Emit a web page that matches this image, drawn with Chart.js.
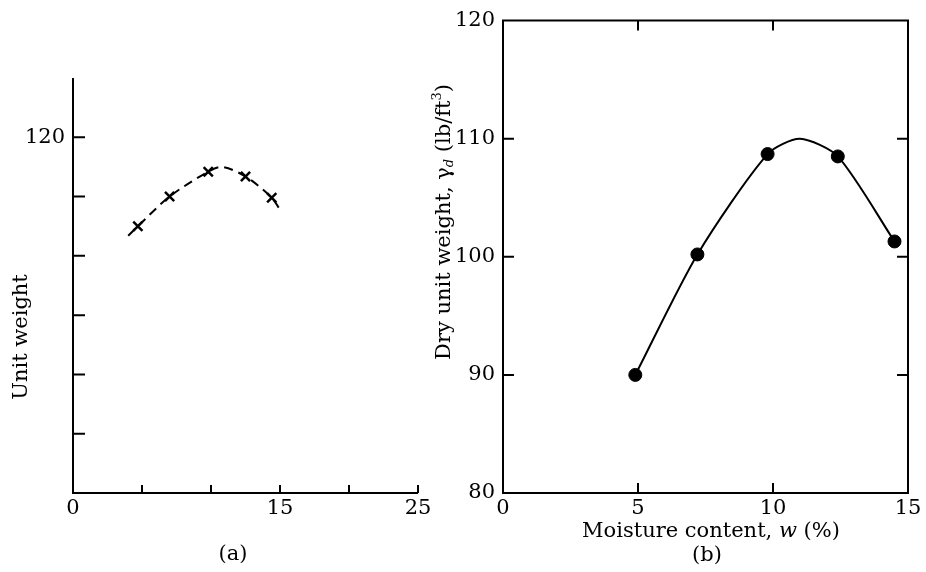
<!DOCTYPE html>
<html>
<head>
<meta charset="utf-8">
<script src="https://cdn.jsdelivr.net/npm/chart.js@4.4.1/dist/chart.umd.min.js"></script>
<style>
  body { margin: 0; background: #fff; width: 926px; height: 572px; overflow: hidden; position: relative; }
  canvas { position: absolute; top: 0; }
  #chartA { left: 0; }
  #chartB { left: 400px; }
</style>
</head>
<body>
<canvas id="chartA" width="460" height="572"></canvas>
<canvas id="chartB" width="526" height="572"></canvas>
<script>
// panel (a): measured points (x marks) and the dashed curve drawn through them
const aMoisture = [4.7, 7.0, 9.8, 12.5, 14.4];
const aUnitWeight = [112.5, 115.0, 117.1, 116.7, 114.9];
const aCurveMoisture = [4.0, 4.7, 7.0, 9.8, 10.8, 12.5, 14.4, 15.1];
const aCurveWeight = [111.7, 112.5, 115.0, 117.1, 117.5, 116.7, 114.9, 113.7];
const aXTicks = [5, 10, 15, 20, 25];
const aXLabels = [0, 15, 25];
const aYTicks = [95, 100, 105, 110, 115, 120];
const aYLabels = [120];

// panel (b): compaction test points and the smooth curve
const bMoisture = [4.9, 7.2, 9.8, 12.4, 14.5];
const bDryUnitWeight = [90.0, 100.2, 108.7, 108.5, 101.3];
const bCurveMoisture = [4.9, 7.2, 9.8, 11.0, 12.4, 14.5];
const bCurveWeight = [90.0, 100.2, 108.7, 110.0, 108.5, 101.3];
const bXTicks = [5, 10];
const bXLabels = [0, 5, 10, 15];
const bYTicks = [90, 100, 110];
const bYLabels = [80, 90, 100, 110, 120];

const FONT = 'DejaVu Serif';
Chart.defaults.font.family = FONT;
Chart.defaults.font.size = 21;
Chart.defaults.color = '#000';

const toPoints = (xs, ys) => xs.map((x, i) => ({ x: x, y: ys[i] }));

function drawParts(ctx, parts, cx, cy, rotate) {
  ctx.save();
  ctx.translate(cx, cy);
  if (rotate) ctx.rotate(-Math.PI / 2);
  ctx.textBaseline = 'middle';
  ctx.fillStyle = '#000';
  let total = 0;
  parts.forEach(p => {
    ctx.font = (p.italic ? 'italic ' : '') + (p.size || 21) + 'px "' + FONT + '"';
    p.w = ctx.measureText(p.t).width;
    total += p.w;
  });
  let x = -total / 2;
  parts.forEach(p => {
    ctx.font = (p.italic ? 'italic ' : '') + (p.size || 21) + 'px "' + FONT + '"';
    ctx.fillText(p.t, x, p.dy || 0);
    x += p.w;
  });
  ctx.restore();
}

// axis lines, inward tick marks and titles
function frame(deco) {
  return {
    id: 'frame',
    afterDraw(chart) {
      const ctx = chart.ctx, a = chart.chartArea;
      const xs = chart.scales.x, ys = chart.scales.y;
      ctx.save();
      ctx.strokeStyle = '#000';
      ctx.lineWidth = 2;
      ctx.beginPath();
      if (deco.box) {
        ctx.rect(a.left, a.top, a.right - a.left, a.bottom - a.top);
      } else {
        ctx.moveTo(a.left, a.top);
        ctx.lineTo(a.left, a.bottom);
        ctx.lineTo(a.right, a.bottom);
      }
      deco.xTicks.forEach(v => {
        const px = xs.getPixelForValue(v);
        ctx.moveTo(px, a.bottom);
        ctx.lineTo(px, a.bottom - deco.xLen);
        if (deco.box) { ctx.moveTo(px, a.top); ctx.lineTo(px, a.top + deco.xLen); }
      });
      deco.yTicks.forEach(v => {
        const py = ys.getPixelForValue(v);
        ctx.moveTo(a.left, py);
        ctx.lineTo(a.left + deco.yLen, py);
        if (deco.box) { ctx.moveTo(a.right, py); ctx.lineTo(a.right - deco.yLen, py); }
      });
      ctx.stroke();
      ctx.restore();
      deco.titles.forEach(t => drawParts(ctx, t.parts, t.x, t.y, t.rotate));
    }
  };
}

function makeChart(id, datasets, xCfg, yCfg, padding, deco) {
  new Chart(document.getElementById(id), {
    type: 'scatter',
    data: { datasets: datasets },
    options: {
      responsive: false,
      animation: false,
      layout: { padding: padding },
      plugins: { legend: { display: false }, tooltip: { enabled: false } },
      scales: {
        x: {
          type: 'linear', min: xCfg.min, max: xCfg.max,
          grid: { display: false, drawTicks: false },
          border: { display: false },
          ticks: { stepSize: xCfg.step, padding: 3, maxRotation: 0,
            callback: v => xCfg.labels.includes(v) ? String(v) : '' },
          afterFit: s => { s.height = xCfg.size; }
        },
        y: {
          type: 'linear', min: yCfg.min, max: yCfg.max,
          grid: { display: false, drawTicks: false },
          border: { display: false },
          ticks: { stepSize: yCfg.step, padding: 8,
            callback: v => yCfg.labels.includes(v) ? String(v) : '' },
          afterFit: s => { s.width = yCfg.size; }
        }
      }
    },
    plugins: [frame(deco)]
  });
}

makeChart('chartA', [
  {
    data: toPoints(aCurveMoisture, aCurveWeight),
    showLine: true, pointRadius: 0, borderColor: '#000', borderWidth: 2,
    borderDash: [9, 6], tension: 0.3
  },
  {
    data: toPoints(aMoisture, aUnitWeight),
    pointStyle: 'crossRot', pointRadius: 6.5, borderColor: '#000', borderWidth: 2.5
  }
], { min: 0, max: 25, step: 5, labels: aXLabels, size: 79 },
   { min: 90, max: 125, step: 5, labels: aYLabels, size: 73 },
   { top: 78, right: 42, left: 0, bottom: 0 },
   { box: false, xTicks: aXTicks, yTicks: aYTicks, xLen: 8, yLen: 12,
     titles: [
       { parts: [{ t: 'Unit weight' }], x: 22, y: 337, rotate: true },
       { parts: [{ t: '(a)' }], x: 233, y: 555 }
     ] });

makeChart('chartB', [
  {
    data: toPoints(bCurveMoisture, bCurveWeight),
    showLine: true, pointRadius: 0, borderColor: '#000', borderWidth: 2,
    tension: 0.25
  },
  {
    data: toPoints(bMoisture, bDryUnitWeight),
    pointStyle: 'circle', pointRadius: 6.5, backgroundColor: '#000', borderColor: '#000', borderWidth: 1
  }
], { min: 0, max: 15, step: 5, labels: bXLabels, size: 79 },
   { min: 80, max: 120, step: 10, labels: bYLabels, size: 103 },
   { top: 18, right: 18, left: 0, bottom: 0 },
   { box: true, xTicks: bXTicks, yTicks: bYTicks, xLen: 10, yLen: 11,
     titles: [
       { parts: [{ t: 'Dry unit weight, \u03b3' }, { t: 'd', italic: true, size: 13, dy: 5 },
                 { t: ' (lb/ft' }, { t: '3', size: 13, dy: -7 }, { t: ')' }],
         x: 45, y: 222, rotate: true },
       { parts: [{ t: 'Moisture content, ' }, { t: 'w', italic: true }, { t: ' (%)' }], x: 311, y: 532 },
       { parts: [{ t: '(b)' }], x: 307, y: 556 }
     ] });
</script>
</body>
</html>
